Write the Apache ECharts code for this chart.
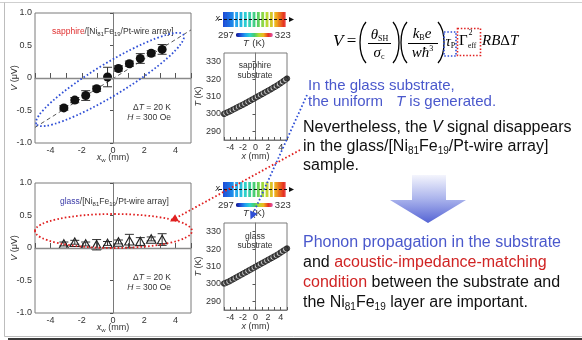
<!DOCTYPE html>
<html><head><meta charset="utf-8">
<script src="https://cdn.jsdelivr.net/npm/echarts/dist/echarts.min.js"></script>
<style>html,body{margin:0;padding:0;background:#fff}#main{width:582px;height:340px}</style>
</head><body><div id="main"></div>
<script>
// ---------- data ----------
const wireX = [-3.15, -2.45, -1.75, -1.05, -0.35, 0.35, 1.05, 1.75, 2.45, 3.15];
const sapphireV = [-0.46, -0.34, -0.27, -0.165, 0.015, 0.146, 0.22, 0.30, 0.38, 0.44];
const sapphireErr = [0.035, 0.04, 0.075, 0.04, 0.15, 0.04, 0.04, 0.075, 0.04, 0.075];
const glassV = [0.062, 0.088, 0.062, 0.05, 0.07, 0.093, 0.11, 0.10, 0.14, 0.13];
const glassErr = [0.03, 0.03, 0.03, 0.08, 0.03, 0.03, 0.10, 0.06, 0.03, 0.09];
const fitX = [-5, 5];
const fitV = [-0.76, 0.74];
const profileX = [-5,-4.75,-4.5,-4.25,-4,-3.75,-3.5,-3.25,-3,-2.75,-2.5,-2.25,-2,-1.75,-1.5,-1.25,-1,-0.75,-0.5,-0.25,0,0.25,0.5,0.75,1,1.25,1.5,1.75,2,2.25,2.5,2.75,3,3.25,3.5,3.75,4,4.25,4.5,4.75,5];
const sapphireT = [300.0,300.4,300.8,301.2,301.6,302.1,302.6,303.0,303.5,304.0,304.4,304.9,305.3,305.8,306.3,306.8,307.3,307.8,308.3,308.8,309.3,309.8,310.3,310.8,311.3,311.8,312.3,312.8,313.3,313.8,314.3,314.9,315.4,315.9,316.5,317.1,317.7,318.3,319.0,319.6,320.3];
const glassT = [300.2,300.5,300.9,301.3,301.8,302.3,302.8,303.3,303.8,304.3,304.8,305.3,305.8,306.3,306.8,307.3,307.8,308.3,308.8,309.3,309.8,310.3,310.8,311.3,311.8,312.3,312.8,313.3,313.8,314.3,314.8,315.3,315.8,316.3,316.8,317.4,318.0,318.6,319.2,319.8,320.4];
const vTicks = [-1, -0.5, 0, 0.5, 1];
const tTicks = [290, 300, 310, 320, 330];
const colorRange = [297, 323];

// ---------- styles ----------
const SANS = '"Liberation Sans", Arial, sans-serif';
const SERIF = '"Liberation Serif", "Times New Roman", serif';
const BLUE = '#4a58cc';
const RED = '#d02424';
const jet = ['#12128a','#1e4ed8','#1e9ef0','#2ed2d2','#46cd6e','#b4dc32','#f0b41e','#e6321e','#e650b4'];
const axisGray = '#7a7a7a';
const labelCol = '#333';

const chart = echarts.init(document.getElementById('main'));

function xAxisV(gi, showName) {
  return {
    type: 'value', gridIndex: gi, min: -5, max: 5, interval: 1,
    axisLine: {show: true, lineStyle: {color: axisGray, width: 1}},
    axisTick: {inside: true, length: 5, lineStyle: {color: '#555'}},
    axisLabel: {formatter: v => (v % 2 === 0 ? String(v) : ''), fontSize: 9, color: labelCol, margin: 3},
    splitLine: {show: false},
    name: showName, nameLocation: 'middle', nameGap: 9, nameMoveOverlap: false,
    nameTextStyle: {fontSize: 9, color: labelCol, verticalAlign: 'top', rich: {i: {fontStyle: 'italic', fontSize: 9, color: labelCol}, s: {fontSize: 6, color: labelCol, verticalAlign: 'bottom', lineHeight: 11}, n: {fontSize: 9, color: labelCol}}}
  };
}
function yAxisV(gi) {
  return {
    type: 'value', gridIndex: gi, min: -1, max: 1, interval: 0.5,
    axisLine: {show: true, lineStyle: {color: axisGray}},
    axisTick: {length: 3, lineStyle: {color: '#555'}},
    axisLabel: {formatter: v => (v === 0 ? '0' : v.toFixed(1)), fontSize: 9, color: labelCol, margin: 3, customValues: vTicks},
    splitLine: {show: false},
    name: '{i|V} ({n|μV})', nameLocation: 'middle', nameGap: 16, nameMoveOverlap: false,
    nameTextStyle: {fontSize: 9, color: labelCol, rich: {i: {fontStyle: 'italic', fontSize: 9, color: labelCol}, n: {fontSize: 9, color: labelCol}}}
  };
}
function xAxisT(gi) {
  return {
    type: 'value', gridIndex: gi, min: -5, max: 5, interval: 1,
    axisLine: {show: true, lineStyle: {color: axisGray}},
    axisTick: {inside: true, length: 3, lineStyle: {color: '#555'}},
    axisLabel: {formatter: v => (v % 2 === 0 ? String(v) : ''), fontSize: 9, color: labelCol, margin: 3},
    splitLine: {show: false},
    name: '{i|x} (mm)', nameLocation: 'middle', nameGap: 12, nameMoveOverlap: false,
    nameTextStyle: {fontSize: 9, color: labelCol, rich: {i: {fontStyle: 'italic', fontSize: 9, color: labelCol}}}
  };
}
function yAxisT(gi) {
  return {
    type: 'value', gridIndex: gi, min: 285, max: 335, interval: 5,
    axisLine: {show: true, lineStyle: {color: axisGray}},
    axisTick: {length: 3, lineStyle: {color: '#555'}, customValues: tTicks},
    axisLabel: {fontSize: 9, color: labelCol, margin: 3, customValues: tTicks},
    splitLine: {show: false},
    name: '{i|T} (K)', nameLocation: 'middle', nameGap: 21, nameMoveOverlap: false,
    nameTextStyle: {fontSize: 9, color: labelCol, rich: {i: {fontStyle: 'italic', fontSize: 9, color: labelCol}}}
  };
}
function hiddenAxis(gi, min, max) {
  return {type: 'value', gridIndex: gi, min: min, max: max, show: false};
}

const errRender = function (params, api) {
  const x = api.value(0), v = api.value(1), e = api.value(2);
  const top = api.coord([x, v + e]), bot = api.coord([x, v - e]);
  const cap = 4.5;
  const st = {stroke: '#333', lineWidth: 1};
  return {type: 'group', children: [
    {type: 'line', shape: {x1: top[0], y1: top[1], x2: bot[0], y2: bot[1]}, style: st},
    {type: 'line', shape: {x1: top[0] - cap, y1: top[1], x2: top[0] + cap, y2: top[1]}, style: st},
    {type: 'line', shape: {x1: bot[0] - cap, y1: bot[1], x2: bot[0] + cap, y2: bot[1]}, style: st}
  ]};
};
const cellRender = function (params, api) {
  const x = api.value(0);
  const p0 = api.coord([Math.max(x - 0.125, -5), 1]);
  const p1 = api.coord([Math.min(x + 0.125, 5), 0]);
  return {type: 'rect', shape: {x: p0[0], y: p0[1], width: p1[0] - p0[0] + 0.6, height: p1[1] - p0[1]}, style: {fill: api.visual('color')}};
};
const wireRender = function (params, api) {
  const x = api.value(0);
  const p0 = api.coord([x, 1]);
  const p1 = api.coord([x, 0]);
  return {type: 'rect', shape: {x: p0[0] - 0.75, y: p0[1], width: 1.5, height: p1[1] - p0[1]}, style: {fill: '#fff'}};
};

function tPoints(arr) {
  return profileX.map((x, i) => ({value: [x, arr[i]], itemStyle: {color: i % 2 ? '#ffffff' : '#1a1a1a', borderColor: '#1a1a1a', borderWidth: 0.8}}));
}

const zeroLine = {silent: true, symbol: 'none', label: {show: false}, lineStyle: {color: '#8a8a8a', width: 1.3, type: 'solid'}, data: [{yAxis: 0}], animation: false};

const series = [
  {type: 'line', xAxisIndex: 0, yAxisIndex: 0, data: fitX.map((x, i) => [x, fitV[i]]), symbol: 'none', lineStyle: {color: '#555', width: 1, type: [4, 3]}, markLine: zeroLine, z: 1},
  {type: 'custom', xAxisIndex: 0, yAxisIndex: 0, data: wireX.map((x, i) => [x, sapphireV[i], sapphireErr[i]]), renderItem: errRender, z: 2},
  {type: 'scatter', xAxisIndex: 0, yAxisIndex: 0, data: wireX.map((x, i) => [x, sapphireV[i]]), symbol: 'circle', symbolSize: 9, itemStyle: {color: '#111', opacity: 1}, z: 3},
  {type: 'custom', xAxisIndex: 1, yAxisIndex: 1, data: wireX.map((x, i) => [x, glassV[i], glassErr[i]]), renderItem: errRender, z: 2},
  {type: 'scatter', xAxisIndex: 1, yAxisIndex: 1, data: wireX.map((x, i) => [x, glassV[i]]), symbol: 'triangle', symbolSize: [9.5, 8.5], itemStyle: {color: 'rgba(255,255,255,0)', borderColor: '#222', borderWidth: 1.1, opacity: 1}, markLine: zeroLine, z: 3},
  {type: 'scatter', xAxisIndex: 2, yAxisIndex: 2, data: tPoints(sapphireT), symbol: 'circle', symbolSize: 5.5, z: 3},
  {type: 'scatter', xAxisIndex: 3, yAxisIndex: 3, data: tPoints(glassT), symbol: 'circle', symbolSize: 5.5, z: 3},
  {type: 'custom', xAxisIndex: 4, yAxisIndex: 4, data: profileX.map((x, i) => [x, sapphireT[i]]), renderItem: cellRender, encode: {x: 0}, z: 1},
  {type: 'custom', xAxisIndex: 4, yAxisIndex: 4, data: wireX.map(x => [x]), renderItem: wireRender, encode: {x: 0}, z: 2},
  {type: 'custom', xAxisIndex: 5, yAxisIndex: 5, data: profileX.map((x, i) => [x, glassT[i]]), renderItem: cellRender, encode: {x: 0}, z: 1},
  {type: 'custom', xAxisIndex: 5, yAxisIndex: 5, data: wireX.map(x => [x]), renderItem: wireRender, encode: {x: 0}, z: 2}
];

function vm(si, top) {
  return {
    type: 'continuous', seriesIndex: si, dimension: 1, min: colorRange[0], max: colorRange[1],
    inRange: {color: jet}, orient: 'horizontal', left: 218, top: top,
    itemWidth: 4, itemHeight: 37, text: [String(colorRange[1]), String(colorRange[0])], textGap: 2,
    textStyle: {fontSize: 9.5, color: labelCol, fontFamily: SANS}, calculable: false, padding: 0,
    hoverLink: false, realtime: false
  };
}

// ---------- annotations ----------
function arrowHead(x1, y1, x2, y2, color, len, w) {
  const dx = x2 - x1, dy = y2 - y1, L = Math.hypot(dx, dy), ux = dx / L, uy = dy / L;
  const bx = x2 - ux * len, by = y2 - uy * len;
  return {type: 'polygon', z: 100, shape: {points: [[x2, y2], [bx - uy * w, by + ux * w], [bx + uy * w, by - ux * w]]}, style: {fill: color}};
}
function dotted(x1, y1, x2, y2, color) {
  return {type: 'line', z: 100, shape: {x1, y1, x2, y2}, style: {stroke: color, lineWidth: 1.8, lineDash: [1.6, 2.2], fill: null}};
}
function txt(x, y, text, opts) {
  return {type: 'text', z: 100, x: x, y: y, style: Object.assign({text: text, verticalAlign: 'middle'}, opts)};
}
const smallRich = {
  n: {fontSize: 8.5, lineHeight: 11, fontFamily: SANS, fill: '#333', color: '#333'},
  s: {fontSize: 6, lineHeight: 11, fontFamily: SANS, verticalAlign: 'bottom', fill: '#333', color: '#333'},
  i: {fontSize: 8.5, lineHeight: 11, fontFamily: SANS, fontStyle: 'italic', fill: '#333', color: '#333'},
  r: {fontSize: 8.5, lineHeight: 11, fontFamily: SANS, fill: '#e03030', color: '#e03030'},
  b: {fontSize: 8.5, lineHeight: 11, fontFamily: SANS, fill: '#3a3aa8', color: '#3a3aa8'}
};
const bigRich = {
  n: {fontSize: 16, lineHeight: 19, fontFamily: SANS, fill: '#111'},
  i: {fontSize: 16, lineHeight: 19, fontFamily: SANS, fontStyle: 'italic', fill: '#111'},
  s: {fontSize: 10, lineHeight: 19, fontFamily: SANS, verticalAlign: 'bottom', fill: '#111'},
  bl: {fontSize: 16, lineHeight: 19, fontFamily: SANS, fill: BLUE},
  rd: {fontSize: 16, lineHeight: 19, fontFamily: SANS, fill: RED}
};
const blueRich = {
  b: {fontSize: 15, lineHeight: 18, fontFamily: SANS, fill: BLUE},
  bi: {fontSize: 15, lineHeight: 18, fontFamily: SANS, fontStyle: 'italic', fill: BLUE}
};
const fRich = {
  i: {fontSize: 15, lineHeight: 16, fontFamily: SERIF, fontStyle: 'italic', fill: '#000'},
  n: {fontSize: 15, lineHeight: 16, fontFamily: SERIF, fill: '#000'},
  s: {fontSize: 8, lineHeight: 16, fontFamily: SERIF, verticalAlign: 'bottom', fill: '#000'},
  p: {fontSize: 8, lineHeight: 16, fontFamily: SERIF, verticalAlign: 'top', fill: '#000'}
};
function paren(x, left) {
  const d = left ? -8 : 8;
  return {type: 'bezierCurve', z: 100, shape: {x1: x, y1: 22, x2: x, y2: 63, cpx1: x + d, cpy1: 31, cpx2: x + d, cpy2: 54}, style: {stroke: '#000', lineWidth: 1.3, fill: null}};
}
function hline(x1, x2, y, color, w) {
  return {type: 'line', z: 100, shape: {x1, y1: y, x2, y2: y}, style: {stroke: color, lineWidth: w}};
}

const elements = [
  // frame
  hline(0, 582, 2.5, '#cfcfcf', 1),
  {type: 'line', z: 100, shape: {x1: 4.5, y1: 2.5, x2: 4.5, y2: 336.5}, style: {stroke: '#bdbdbd', lineWidth: 1}},
  hline(4.5, 582, 336.5, '#bdbdbd', 1),
  hline(8, 582, 339, '#3a3a3a', 2),
  // plot labels
  txt(52, 32, '{r|sapphire}{n|/[Ni}{s|81}{n|Fe}{s|19}{n|/Pt-wire array]}', {rich: smallRich}),
  txt(60, 202, '{b|glass}{n|/[Ni}{s|81}{n|Fe}{s|19}{n|/Pt-wire array]}', {rich: smallRich}),
  txt(171, 107.5, '{n|Δ}{i|T}{n| = 20 K}', {rich: smallRich, align: 'right'}),
  txt(171, 117.5, '{i|H}{n| = 300 Oe}', {rich: smallRich, align: 'right'}),
  txt(171, 277.5, '{n|Δ}{i|T}{n| = 20 K}', {rich: smallRich, align: 'right'}),
  txt(171, 287.5, '{i|H}{n| = 300 Oe}', {rich: smallRich, align: 'right'}),
  txt(255, 66, 'sapphire', {font: '8.5px ' + SANS, fill: '#333', align: 'center'}),
  txt(255, 75.5, 'substrate', {font: '8.5px ' + SANS, fill: '#333', align: 'center'}),
  txt(255, 236.5, 'glass', {font: '8.5px ' + SANS, fill: '#333', align: 'center'}),
  txt(255, 245.5, 'substrate', {font: '8.5px ' + SANS, fill: '#333', align: 'center'}),
  // color bar axis lines
  txt(215.5, 18.5, 'x', {font: 'italic 8.5px ' + SANS, fill: '#222'}),
  {type: 'line', z: 100, shape: {x1: 219, y1: 19.5, x2: 290, y2: 19.5}, style: {stroke: '#111', lineWidth: 1, lineDash: [3, 2]}},
  arrowHead(280, 19.5, 294, 19.5, '#111', 5, 2.5),
  txt(215.5, 188.5, 'x', {font: 'italic 8.5px ' + SANS, fill: '#222'}),
  {type: 'line', z: 100, shape: {x1: 219, y1: 189.5, x2: 290, y2: 189.5}, style: {stroke: '#111', lineWidth: 1, lineDash: [3, 2]}},
  arrowHead(280, 189.5, 294, 189.5, '#111', 5, 2.5),
  txt(254, 43.5, '{i|T} {n|(K)}', {rich: {i: {fontSize: 9.5, fontStyle: 'italic', fontFamily: SANS, fill: '#333'}, n: {fontSize: 9.5, fontFamily: SANS, fill: '#333'}}, align: 'center'}),
  txt(254, 213.5, '{i|T} {n|(K)}', {rich: {i: {fontSize: 9.5, fontStyle: 'italic', fontFamily: SANS, fill: '#333'}, n: {fontSize: 9.5, fontFamily: SANS, fill: '#333'}}, align: 'center'}),
  // ellipses
  {type: 'ellipse', z: 100, x: 110, y: 79.5, rotation: 0.545, shape: {cx: 0, cy: 0, rx: 86, ry: 16}, style: {stroke: '#2f4fd6', lineWidth: 1.8, lineDash: [1.6, 2.2], fill: null}},
  {type: 'ellipse', z: 100, x: 113.5, y: 231, shape: {cx: 0, cy: 0, rx: 78.5, ry: 17}, style: {stroke: '#e02020', lineWidth: 1.8, lineDash: [1.6, 2.2], fill: null}},
  // dotted arrows
  dotted(307, 95, 253, 214, '#2f4fd6'),
  arrowHead(307, 95, 250.5, 219.5, '#2f4fd6', 8, 4),
  dotted(300, 150, 176, 218, '#e02020'),
  arrowHead(300, 150, 170, 221.5, '#e02020', 8, 4),
  // formula
  txt(333, 42, '{i|V} {n|=}', {rich: {i: {fontSize: 17, fontFamily: SERIF, fontStyle: 'italic', fill: '#000'}, n: {fontSize: 17, fontFamily: SERIF, fill: '#000'}}}),
  paren(366, true), paren(393, false), paren(407, true), paren(438, false),
  txt(379.5, 35, '{i|θ}{s|SH}', {rich: fRich, align: 'center'}),
  hline(368, 391, 43.5, '#000', 1),
  txt(379, 53, '{i|σ}{s|c}', {rich: fRich, align: 'center'}),
  txt(422, 34, '{i|k}{s|B}{i|e}', {rich: fRich, align: 'center'}),
  hline(408, 438, 43.5, '#000', 1),
  txt(422.5, 53, '{i|wħ}{p|3}', {rich: fRich, align: 'center'}),
  txt(445.5, 42, '{i|τ}{s|P}', {rich: fRich}),
  {type: 'rect', z: 100, shape: {x: 444, y: 32, width: 12, height: 24}, style: {stroke: '#2f4fd6', lineWidth: 1.6, lineDash: [1.5, 1.8], fill: null}},
  txt(459, 41.5, 'Γ', {font: '15px ' + SERIF, fill: '#000'}),
  txt(468.5, 33, '2', {font: '8px ' + SERIF, fill: '#000'}),
  txt(468, 46.5, 'eff', {font: '7.5px ' + SERIF, fill: '#000'}),
  {type: 'rect', z: 100, shape: {x: 457.5, y: 28.5, width: 23, height: 27}, style: {stroke: '#e02020', lineWidth: 1.6, lineDash: [1.5, 1.8], fill: null}},
  txt(482, 41.5, '{i|RB}{n|Δ}{i|T}', {rich: fRich}),
  // right text
  txt(308, 86, '{b|In the glass substrate,}', {rich: blueRich}),
  txt(308, 102, '{b|the uniform}', {rich: blueRich}),
  txt(396, 102, '{bi|T}{b| is generated.}', {rich: blueRich}),
  txt(303, 127.5, '{n|Nevertheless, the }{i|V}{n| signal disappears}', {rich: bigRich}),
  txt(303, 147, '{n|in the glass/[Ni}{s|81}{n|Fe}{s|19}{n|/Pt-wire array]}', {rich: bigRich}),
  txt(303, 166, '{n|sample.}', {rich: bigRich}),
  // big arrow
  {type: 'polygon', z: 99, shape: {points: [[412, 175], [446, 175], [446, 200], [466, 200], [428, 223], [390, 200], [412, 200]]},
   style: {fill: new echarts.graphic.LinearGradient(0, 0, 0, 1, [{offset: 0, color: '#f4f5fd'}, {offset: 0.5, color: '#aab3ec'}, {offset: 1, color: '#5564d4'}])}},
  txt(303, 242.5, '{bl|Phonon propagation in the substrate}', {rich: bigRich}),
  txt(303, 262.5, '{n|and }{rd|acoustic-impedance-matching}', {rich: bigRich}),
  txt(303, 282.5, '{rd|condition}{n| between the substrate and}', {rich: bigRich}),
  txt(303, 302.5, '{n|the Ni}{s|81}{n|Fe}{s|19}{n| layer are important.}', {rich: bigRich})
];

const option = {
  animation: false,
  textStyle: {fontFamily: SANS},
  grid: [
    {left: 35, top: 13, width: 156, height: 130, show: true, borderColor: axisGray, borderWidth: 1, backgroundColor: 'transparent'},
    {left: 35, top: 183, width: 156, height: 130, show: true, borderColor: axisGray, borderWidth: 1, backgroundColor: 'transparent'},
    {left: 224, top: 53, width: 63, height: 87, show: true, borderColor: axisGray, borderWidth: 1, backgroundColor: 'transparent'},
    {left: 224, top: 223, width: 63, height: 87, show: true, borderColor: axisGray, borderWidth: 1, backgroundColor: 'transparent'},
    {left: 223, top: 12, width: 62, height: 15},
    {left: 223, top: 182, width: 62, height: 15}
  ],
  xAxis: [xAxisV(0, '{i|x}{s|w}{n| (mm)}'), xAxisV(1, '{i|x}{s|w}{n| (mm)}'), xAxisT(2), xAxisT(3), hiddenAxis(4, -5, 5), hiddenAxis(5, -5, 5)],
  yAxis: [yAxisV(0), yAxisV(1), yAxisT(2), yAxisT(3), hiddenAxis(4, 0, 1), hiddenAxis(5, 0, 1)],
  visualMap: [vm(7, 30), vm(9, 200)],
  series: series,
  graphic: {elements: elements}
};
chart.setOption(option);
</script>
</body></html>
